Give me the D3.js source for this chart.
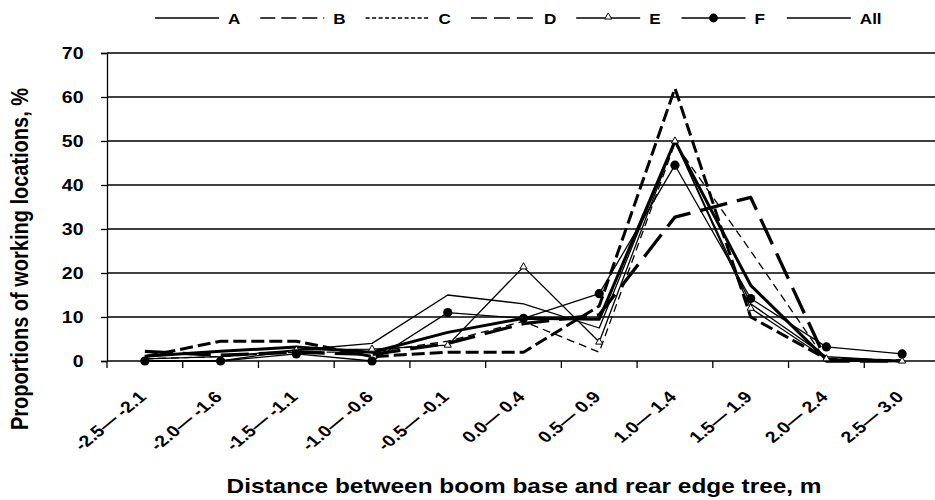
<!DOCTYPE html>
<html><head><meta charset="utf-8">
<script src="https://cdn.jsdelivr.net/npm/d3@7"></script>
<style>
body{margin:0;background:#fff}
svg{display:block}
text{font-family:"Liberation Sans",Arial,Helvetica,sans-serif;font-weight:bold;fill:#000}
</style>
</head><body>
<svg id="c" width="935" height="500"></svg>
<script>
// ---- data ----
const categories = ["-2.5\u2014 -2.1","-2.0\u2014 -1.6","-1.5\u2014 -1.1","-1.0\u2014 -0.6","-0.5\u2014 -0.1",
  "0.0\u2014 0.4","0.5\u2014 0.9","1.0\u2014 1.4","1.5\u2014 1.9","2.0\u2014 2.4","2.5\u2014 3.0"];
const yTicks = [0,10,20,30,40,50,60,70];
const seriesNames = ["A","B","C","D","E","F","All"];
const seriesA   = [0.5, 1, 2.5, 4, 15, 13, 7.5, 50, 13, 1, 0];
const seriesB   = [0.5, 1, 2, 2, 4.5, 9, 2, 49.5, 25, 0, 0];
const seriesC   = [1, 4.5, 4.5, 1, 2, 2, 12.5, 62, 10, 0.5, 0];
const seriesD   = [2.2, 1.3, 2, 1.5, 4, 8.5, 10.5, 32.7, 37.2, 0, 0];
const seriesE   = [0, 0, 2.5, 2.7, 3.6, 21.4, 4.3, 50, 12, 0.5, 0];
const seriesF   = [0, 0, 1.6, 0, 11, 9.7, 15.3, 44.5, 14.2, 3.2, 1.6];
const seriesAll = [1.1, 2.2, 3.2, 2, 6.5, 9.7, 9.5, 50, 17.2, 0.3, 0];
const xTitle = "Distance between boom base and rear edge tree, m";
const yTitle = "Proportions of working locations, %";

// ---- styles ----
const SX = 1.22; // horizontal text stretch of the reference
const plotStyle = {
  A:   {w:1.3, dash:null},
  B:   {w:1.3, dash:"8,5"},
  C:   {w:3,   dash:"13,5"},
  D:   {w:3.3, dash:"28,10"},
  E:   {w:1.3, dash:null, marker:"tri"},
  F:   {w:1.3, dash:null, marker:"dot"},
  All: {w:3,   dash:null}
};
const legendStyle = {
  A:{dash:null}, B:{dash:"15,6"}, C:{dash:"4,2.5"}, D:{dash:"16,7"},
  E:{dash:null, marker:"tri"}, F:{dash:null, marker:"dot"}, All:{dash:null}
};
const seriesData = {A:seriesA,B:seriesB,C:seriesC,D:seriesD,E:seriesE,F:seriesF,All:seriesAll};

const svg = d3.select("#c");
const x = d3.scaleBand().domain(categories).range([107, 940]);
const y = d3.scaleLinear().domain([0, 70]).range([361, 53]);
const cx = c => x(c) + x.bandwidth() / 2;

// gridlines
svg.append("g").selectAll("line").data(yTicks.filter(t => t > 0)).join("line")
  .attr("x1", 107).attr("x2", 940)
  .attr("y1", d => y(d)).attr("y2", d => y(d))
  .attr("stroke", "#000").attr("stroke-width", 1.3);

// y axis
const yAxis = svg.append("g").attr("transform", "translate(107,0)")
  .call(d3.axisLeft(y).tickValues(yTicks).tickSize(6));
yAxis.select(".domain").attr("stroke", "#000").attr("stroke-width", 1.3);
yAxis.selectAll(".tick line").attr("stroke", "#000").attr("stroke-width", 1.3);
yAxis.selectAll(".tick text")
  .attr("x", -23.5 / SX).attr("dy", "0.35em")
  .attr("transform", `scale(${SX},1)`)
  .style("font-size", "16px").style("fill", "#000");

// x axis line and boundary ticks
const xa = svg.append("g");
xa.append("line").attr("x1", x.range()[0]).attr("x2", x.range()[1])
  .attr("y1", y(0)).attr("y2", y(0)).attr("stroke", "#000").attr("stroke-width", 1.5);
const bounds = categories.map(c => x(c)).concat([x.range()[1]]);
xa.selectAll("line.tk").data(bounds).join("line").attr("class", "tk")
  .attr("x1", d => d).attr("x2", d => d).attr("y1", y(0)).attr("y2", y(0) + 7)
  .attr("stroke", "#000").attr("stroke-width", 1.3);
// x labels
xa.selectAll("g.lab").data(categories).join("g").attr("class", "lab")
  .attr("transform", d => `translate(${cx(d) + 2.5},398) scale(${SX},1) rotate(-45)`)
  .append("text").attr("text-anchor", "end").style("font-size", "16px").text(d => d);

// lines
const line = d3.line().x((v, i) => cx(categories[i])).y(v => y(v));
const drawOrder = ["A","B","E","D","C","F","All"];
const lg = svg.append("g");
drawOrder.forEach(n => {
  const st = plotStyle[n];
  lg.append("path").datum(seriesData[n]).attr("d", line)
    .attr("fill", "none").attr("stroke", "#000").attr("stroke-width", st.w)
    .attr("stroke-dasharray", st.dash).attr("stroke-linejoin", "round");
});
// markers
const tri = d3.symbol().type(d3.symbolTriangle).size(22);
svg.append("g").selectAll("path").data(seriesE).join("path")
  .attr("d", tri).attr("transform", (v, i) => `translate(${cx(categories[i])},${y(v)})`)
  .attr("fill", "#fff").attr("stroke", "#000").attr("stroke-width", 1);
svg.append("g").selectAll("circle").data(seriesF).join("circle")
  .attr("cx", (v, i) => cx(categories[i])).attr("cy", v => y(v)).attr("r", 4.6).attr("fill", "#000");

// legend
const leg = svg.append("g");
seriesNames.forEach((n, i) => {
  const x0 = 155 + i * 105.3, len = 64, ly = 18;
  const st = legendStyle[n];
  leg.append("line").attr("x1", x0).attr("x2", x0 + len).attr("y1", ly).attr("y2", ly)
    .attr("stroke", "#000").attr("stroke-width", 1.5).attr("stroke-dasharray", st.dash);
  if (st.marker === "tri") {
    leg.append("path").attr("d", tri).attr("transform", `translate(${x0 + len / 2},${ly - 1})`)
      .attr("fill", "#fff").attr("stroke", "#000").attr("stroke-width", 1);
  } else if (st.marker === "dot") {
    leg.append("circle").attr("cx", x0 + len / 2).attr("cy", ly).attr("r", 4.4).attr("fill", "#000");
  }
  leg.append("g").attr("transform", `translate(${x0 + len + 9},24) scale(${SX},1)`)
    .append("text").style("font-size", "14px").text(n);
});

// axis titles
svg.append("g").attr("transform", `translate(524,493) scale(${SX},1)`)
  .append("text").attr("text-anchor", "middle").style("font-size", "20px").text(xTitle);
svg.append("g").attr("transform", `translate(28,259) scale(${SX},1) rotate(-90)`)
  .append("text").attr("text-anchor", "middle").style("font-size", "20px").text(yTitle);
</script>
</body></html>
